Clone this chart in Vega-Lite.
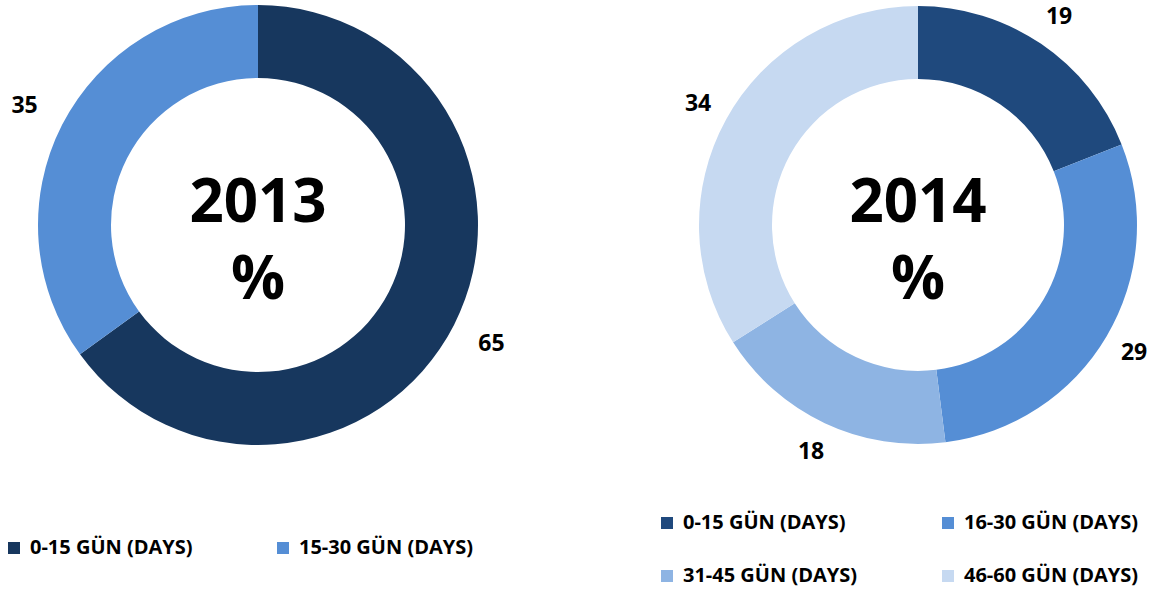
{
  "$schema": "https://vega.github.io/schema/vega-lite/v6.json",
  "background": "white",
  "padding": {"left": 0, "top": 0, "right": 0, "bottom": 8},
  "bounds": "flush",
  "spacing": 152,
  "config": {"view": {"stroke": null}, "font": "Open Sans"},
  "resolve": {"scale": {"color": "independent", "theta": "independent"}, "legend": {"color": "independent"}},
  "hconcat": [
    {
      "width": 516,
      "height": 450,
      "layer": [
        {
          "data": {"values": [
            {"range": "0-15 GÜN (DAYS)", "value": 65},
            {"range": "15-30 GÜN (DAYS)", "value": 35}
          ]},
          "mark": {"type": "arc", "outerRadius": 220, "innerRadius": 147, "stroke": null},
          "encoding": {
            "theta": {"field": "value", "type": "quantitative", "stack": true},
            "order": {"field": "range", "sort": "ascending"},
            "color": {
              "field": "range", "type": "nominal",
              "scale": {"domain": ["0-15 GÜN (DAYS)", "15-30 GÜN (DAYS)"], "range": ["#17375E", "#558ED5"]},
              "legend": {
                "title": null, "orient": "none", "legendX": 4, "legendY": 538,
                "direction": "horizontal", "columns": 2, "columnPadding": 80,
                "symbolType": "square", "symbolSize": 144, "symbolStrokeWidth": 0,
                "labelFont": "Open Sans", "labelFontSize": 20, "labelFontWeight": "bold", "labelColor": "#000000",
                "labelOffset": 6, "labelLimit": 400
              }
            }
          }
        },
        {
          "data": {"values": [
            {"range": "0-15 GÜN (DAYS)", "value": 65},
            {"range": "15-30 GÜN (DAYS)", "value": 35}
          ]},
          "mark": {"type": "text", "radius": 262, "font": "Open Sans", "fontSize": 23, "fontWeight": "bold", "color": "#000000", "align": "center", "baseline": "middle"},
          "encoding": {
            "theta": {"field": "value", "type": "quantitative", "stack": true},
            "order": {"field": "range", "sort": "ascending"},
            "detail": {"field": "range", "type": "nominal"},
            "text": {"field": "value", "type": "quantitative"}
          }
        },
        {
          "data": {"values": [{"lines": ["2013", "%"]}]},
          "mark": {"type": "text", "font": "Open Sans", "fontSize": 60, "fontWeight": "bold", "color": "#000000", "align": "center", "baseline": "middle", "lineHeight": 77, "dy": -21},
          "encoding": {"text": {"field": "lines", "type": "nominal"}}
        }
      ]
    },
    {
      "width": 500,
      "height": 450,
      "layer": [
        {
          "data": {"values": [
            {"range": "0-15 GÜN (DAYS)", "value": 19},
            {"range": "16-30 GÜN (DAYS)", "value": 29},
            {"range": "31-45 GÜN (DAYS)", "value": 18},
            {"range": "46-60 GÜN (DAYS)", "value": 34}
          ]},
          "mark": {"type": "arc", "outerRadius": 219, "innerRadius": 146, "stroke": null},
          "encoding": {
            "theta": {"field": "value", "type": "quantitative", "stack": true},
            "order": {"field": "range", "sort": "ascending"},
            "color": {
              "field": "range", "type": "nominal",
              "scale": {"domain": ["0-15 GÜN (DAYS)", "16-30 GÜN (DAYS)", "31-45 GÜN (DAYS)", "46-60 GÜN (DAYS)"], "range": ["#1F497D", "#558ED5", "#8EB4E3", "#C6D9F1"]},
              "legend": {
                "title": null, "orient": "none", "legendX": -11, "legendY": 513,
                "direction": "horizontal", "columns": 2, "columnPadding": 80, "rowPadding": 33,
                "symbolType": "square", "symbolSize": 144, "symbolStrokeWidth": 0,
                "labelFont": "Open Sans", "labelFontSize": 20, "labelFontWeight": "bold", "labelColor": "#000000",
                "labelOffset": 6, "labelLimit": 400
              }
            }
          }
        },
        {
          "data": {"values": [
            {"range": "0-15 GÜN (DAYS)", "value": 19},
            {"range": "16-30 GÜN (DAYS)", "value": 29},
            {"range": "31-45 GÜN (DAYS)", "value": 18},
            {"range": "46-60 GÜN (DAYS)", "value": 34}
          ]},
          "mark": {"type": "text", "radius": 251, "font": "Open Sans", "fontSize": 23, "fontWeight": "bold", "color": "#000000", "align": "center", "baseline": "middle"},
          "encoding": {
            "theta": {"field": "value", "type": "quantitative", "stack": true},
            "order": {"field": "range", "sort": "ascending"},
            "detail": {"field": "range", "type": "nominal"},
            "text": {"field": "value", "type": "quantitative"}
          }
        },
        {
          "data": {"values": [{"lines": ["2014", "%"]}]},
          "mark": {"type": "text", "font": "Open Sans", "fontSize": 60, "fontWeight": "bold", "color": "#000000", "align": "center", "baseline": "middle", "lineHeight": 77, "dy": -21},
          "encoding": {"text": {"field": "lines", "type": "nominal"}}
        }
      ]
    }
  ]
}
